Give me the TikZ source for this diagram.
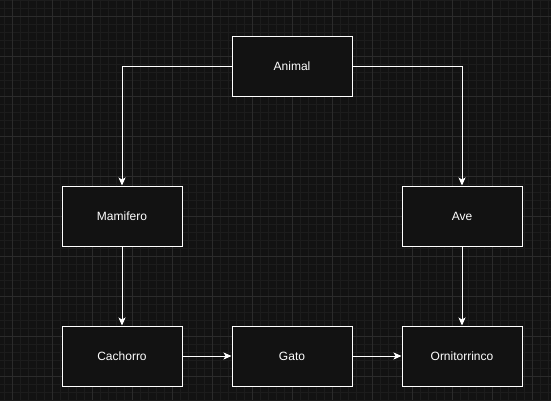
\documentclass[tikz,border=0pt]{standalone}
\usepackage{fontspec}
\setmainfont{Liberation Sans}
\usetikzlibrary{arrows.meta,positioning}

\definecolor{fondo}{HTML}{121212}
\definecolor{gridmenor}{HTML}{1C1C1C}
\definecolor{gridmayor}{HTML}{2B2B2B}

\begin{document}
\begin{tikzpicture}[x=1pt,y=-1pt,
    clase/.style={draw=white, fill=fondo, line width=1pt, minimum width=120pt,
        minimum height=60pt, inner sep=0pt, text=white,
        font=\fontsize{12}{14}\selectfont},
    conn/.style={draw=white, line width=1pt, -{Stealth[length=8pt,width=7pt,inset=2pt]}}]
    % Fondo con cuadricula
    \fill[fondo] (0,0) rectangle (551,400);
    \useasboundingbox (0,0) rectangle (551,400);
    \foreach \x in {4,12,...,548} \draw[gridmenor, line width=1pt] (\x,0) -- (\x,400);
    \foreach \y in {0,8,...,400} \draw[gridmenor, line width=1pt] (0,\y) -- (551,\y);
    \foreach \x in {12,52,...,548} \draw[gridmayor, line width=1pt] (\x,0) -- (\x,400);
    \foreach \y in {16,56,...,400} \draw[gridmayor, line width=1pt] (0,\y) -- (551,\y);

    % Clases
    \node[clase] (animal) at (292,66) {Animal};
    \node[clase] (mamifero) at (122,216) {Mamifero};
    \node[clase] (ave) at (462,216) {Ave};
    \node[clase] (cachorro) at (122,356) {Cachorro};
    \node[clase] (gato) at (292,356) {Gato};
    \node[clase] (ornitorrinco) at (462,356) {Ornitorrinco};

    % Herencia
    \draw[conn] (animal.west) -| (mamifero.north);
    \draw[conn] (animal.east) -| (ave.north);
    \draw[conn] (mamifero) -- (cachorro);
    \draw[conn] (ave) -- (ornitorrinco);
    \draw[conn] (cachorro) -- (gato);
    \draw[conn] (gato) -- (ornitorrinco);
\end{tikzpicture}
\end{document}
